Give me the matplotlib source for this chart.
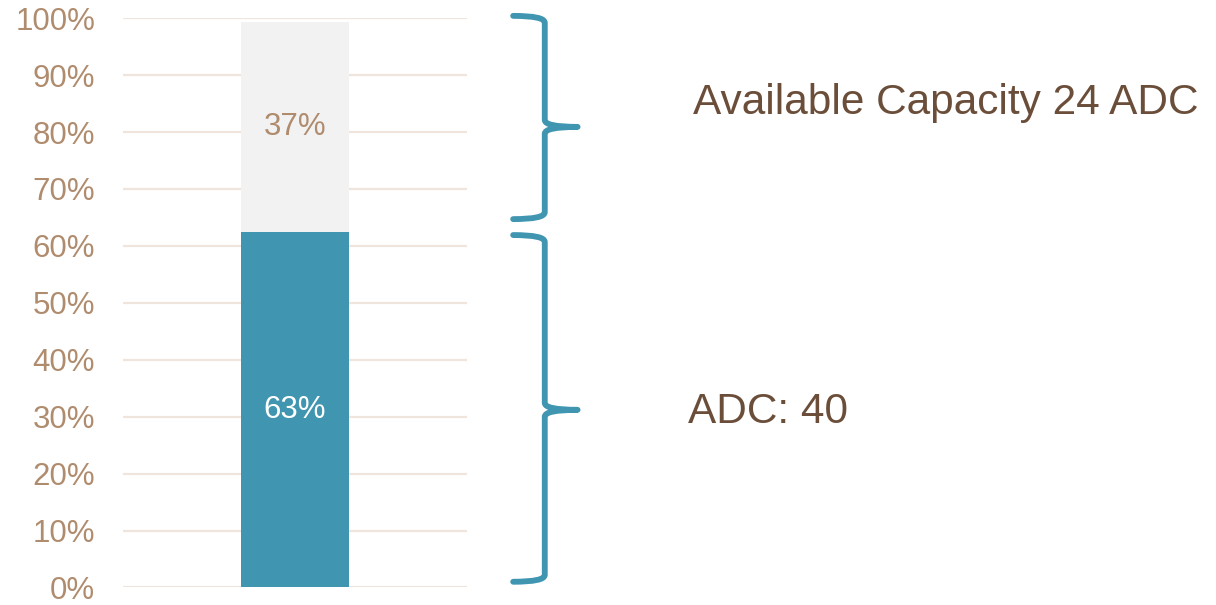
import matplotlib.pyplot as plt
import matplotlib.transforms as mtransforms
from matplotlib.path import Path
from matplotlib.patches import PathPatch
import numpy as np

plt.rcParams['font.family'] = ['Liberation Sans', 'DejaVu Sans']

# data
segments = ['ADC', 'Available']
values = [62.4, 37.0]
labels = ['63%', '37%']
notes = ['ADC: 40', 'Available Capacity 24 ADC']
yticks = list(range(0, 101, 10))

teal = '#4095b0'
light = '#f2f2f2'
tick_col = '#b08c6e'
text_col = '#6b4e3a'
grid_col = '#efe5dd'

fig = plt.figure(figsize=(12.16, 6.05), dpi=100)
ax = fig.add_axes([0.101, 0.029, 0.283, 0.941])

bottoms = np.concatenate([[0], np.cumsum(values)[:-1]])
colors = [teal, light]
lab_cols = ['white', tick_col]
for v, b, c, lab, lc in zip(values, bottoms, colors, labels, lab_cols):
    ax.bar(0, v, bottom=b, width=0.314, color=c, zorder=3)
    ax.text(0, b + v / 2, lab, ha='center', va='center', fontsize=22.5, color=lc, zorder=4)

ax.set_xlim(-0.5, 0.5)
ax.set_ylim(0, 100)
ax.set_yticks(yticks)
ax.set_yticklabels([f'{t}%' for t in yticks])
ax.set_xticks([])
ax.tick_params(axis='y', length=0, pad=20, labelsize=22.5, labelcolor=tick_col)
ax.yaxis.grid(True, color=grid_col, linewidth=1.6, zorder=0)
for s in ax.spines.values():
    s.set_visible(False)

# braces
trans = mtransforms.blended_transform_factory(fig.transFigure, ax.transData)
x0, xv, xt = 0.422, 0.448, 0.475


def brace(y0, y1, ym):
    c = 1.2
    verts = [(x0, y1), (xv, y1), (xv, y1 - c), (xv, ym + c),
             (xv, ym), (xt, ym), (xv, ym), (xv, ym - c),
             (xv, y0 + c), (xv, y0), (x0, y0)]
    codes = [Path.MOVETO, Path.CURVE3, Path.CURVE3, Path.LINETO,
             Path.CURVE3, Path.CURVE3, Path.CURVE3, Path.CURVE3,
             Path.LINETO, Path.CURVE3, Path.CURVE3]
    p = PathPatch(Path(verts, codes), transform=trans, fill=False,
                  edgecolor=teal, linewidth=4.2, capstyle='round',
                  joinstyle='round', clip_on=False)
    fig.add_artist(p)


top = sum(values)
brace(1.0, values[0] - 0.5, values[0] / 2)
brace(values[0] + 2.3, top + 1.0, values[0] + values[1] / 2)

fig.text(0.5658, 1 - 412 / 605, notes[0], fontsize=30.5, color=text_col, va='center', ha='left')
fig.text(0.5699, 1 - 103 / 605, notes[1], fontsize=30.5, color=text_col, va='center', ha='left')

plt.savefig('out.png', dpi=100)
